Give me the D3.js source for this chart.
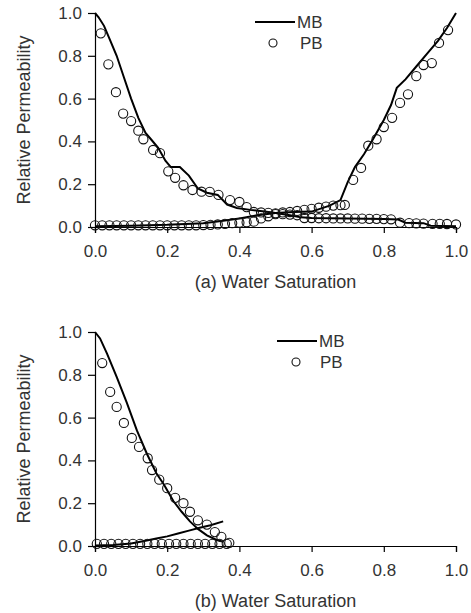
<!DOCTYPE html>
<html>
<head>
<meta charset="utf-8">
<script src="https://cdn.jsdelivr.net/npm/d3@7"></script>
<style>
  body { margin: 0; background: #fff; }
  .axis text { font-family: "Liberation Sans", Arial, sans-serif; font-size: 17px; fill: #333; }
  .axis path, .axis line { stroke: #000; stroke-width: 1.2; }
  .lbl { font-family: "Liberation Sans", Arial, sans-serif; fill: #333; }
</style>
</head>
<body>
<div id="chart"></div>
<script>
// tick values
const xTicks = [0, 0.2, 0.4, 0.6, 0.8, 1.0];
const yTicks = [0, 0.2, 0.4, 0.6, 0.8, 1.0];

// (a) MB lines
const aMbOil = [[0,1.0],[0.01,0.98],[0.025,0.94],[0.04,0.88],[0.06,0.80],[0.08,0.70],[0.1,0.60],[0.12,0.51],[0.14,0.44],[0.155,0.41],[0.175,0.37],[0.195,0.31],[0.21,0.28],[0.235,0.28],[0.26,0.24],[0.285,0.18],[0.31,0.16],[0.34,0.15],[0.366,0.105],[0.393,0.089],[0.43,0.08],[0.47,0.072],[0.5,0.065],[0.54,0.055],[0.57,0.045],[0.6,0.042],[0.7,0.04],[0.8,0.037],[0.84,0.035],[0.86,0.02],[0.91,0.018],[0.93,0.006],[1.0,0.004]];
const aMbWater = [[0,0.004],[0.1,0.006],[0.2,0.01],[0.3,0.018],[0.35,0.028],[0.4,0.04],[0.45,0.055],[0.5,0.065],[0.55,0.07],[0.6,0.072],[0.65,0.1],[0.68,0.126],[0.7,0.21],[0.72,0.28],[0.745,0.34],[0.77,0.41],[0.8,0.5],[0.82,0.57],[0.836,0.65],[0.86,0.69],[0.89,0.75],[0.92,0.81],[0.95,0.87],[0.975,0.93],[1.0,1.0]];

// (a) PB circles
const aPbOil = [[0.016,0.905],[0.037,0.76],[0.058,0.63],[0.078,0.53],[0.1,0.495],[0.12,0.45],[0.134,0.41],[0.161,0.36],[0.18,0.345],[0.203,0.26],[0.222,0.23],[0.245,0.195],[0.27,0.173],[0.295,0.165],[0.318,0.164],[0.342,0.15],[0.374,0.126],[0.4,0.117],[0.42,0.093],[0.44,0.07],[0.46,0.068],[0.48,0.066],[0.5,0.064],[0.52,0.06],[0.54,0.058],[0.56,0.055],[0.58,0.042],[0.6,0.042],[0.62,0.041],[0.64,0.041],[0.66,0.04],[0.68,0.04],[0.7,0.04],[0.72,0.039],[0.74,0.039],[0.76,0.038],[0.78,0.038],[0.8,0.037],[0.82,0.036],[0.845,0.02],[0.87,0.018],[0.89,0.017],[0.91,0.016],[0.935,0.015],[0.955,0.015],[0.975,0.014],[1.0,0.012]];
const aPbWater = [[0,0.008],[0.02,0.008],[0.04,0.008],[0.06,0.008],[0.08,0.008],[0.1,0.008],[0.12,0.008],[0.14,0.008],[0.16,0.008],[0.18,0.008],[0.2,0.008],[0.22,0.008],[0.24,0.008],[0.26,0.008],[0.28,0.008],[0.3,0.009],[0.32,0.01],[0.34,0.012],[0.36,0.015],[0.38,0.018],[0.4,0.02],[0.42,0.022],[0.44,0.025],[0.46,0.04],[0.48,0.05],[0.5,0.06],[0.52,0.068],[0.54,0.07],[0.56,0.075],[0.58,0.08],[0.6,0.085],[0.62,0.09],[0.64,0.095],[0.66,0.1],[0.68,0.102],[0.692,0.103],[0.715,0.22],[0.737,0.276],[0.757,0.38],[0.78,0.41],[0.8,0.467],[0.823,0.51],[0.845,0.58],[0.867,0.62],[0.89,0.705],[0.91,0.757],[0.933,0.766],[0.953,0.86],[0.978,0.92]];

// (b) MB lines
const bMbOil = [[0,1.0],[0.014,0.97],[0.033,0.9],[0.06,0.79],[0.088,0.67],[0.116,0.54],[0.144,0.43],[0.17,0.34],[0.19,0.29],[0.217,0.21],[0.24,0.16],[0.263,0.115],[0.285,0.08],[0.31,0.05],[0.337,0.028],[0.355,0.02]];
const bMbWater = [[0,0.002],[0.05,0.005],[0.1,0.012],[0.14,0.025],[0.17,0.035],[0.2,0.045],[0.23,0.058],[0.26,0.072],[0.29,0.085],[0.32,0.097],[0.355,0.115]];

// (b) PB circles
const bPbOil = [[0.02,0.855],[0.042,0.72],[0.06,0.65],[0.08,0.575],[0.102,0.505],[0.122,0.463],[0.146,0.41],[0.158,0.355],[0.178,0.31],[0.2,0.27],[0.222,0.225],[0.245,0.2],[0.263,0.16],[0.285,0.12],[0.31,0.1],[0.332,0.065],[0.35,0.043],[0.372,0.015]];
const bPbWater = [[0.005,0.01],[0.025,0.01],[0.045,0.01],[0.065,0.01],[0.085,0.01],[0.105,0.01],[0.125,0.01],[0.145,0.01],[0.165,0.01],[0.185,0.01],[0.205,0.01],[0.225,0.01],[0.245,0.01],[0.265,0.01],[0.285,0.01],[0.305,0.01],[0.325,0.01],[0.345,0.01],[0.365,0.01]];

const width = 471, height = 613;
const svg = d3.select('#chart').append('svg')
    .attr('width', width)
    .attr('height', height)
    .style('display', 'block');

const x = d3.scaleLinear().domain([0, 1]).range([95, 456]);

function drawPanel(top, title, lines, pbs, legend) {
    const y = d3.scaleLinear().domain([0, 1]).range([top + 214, top]);
    const g = svg.append('g');

    //Axes
    g.append('g')
        .attr('class', 'axis')
        .attr('transform', 'translate(0,' + y(0) + ')')
        .call(d3.axisBottom(x).tickValues(xTicks).tickFormat(d3.format('.1f'))
            .tickSizeOuter(0).tickSize(6).tickPadding(12));
    g.append('g')
        .attr('class', 'axis')
        .attr('transform', 'translate(' + x(0) + ',0)')
        .call(d3.axisLeft(y).tickValues(yTicks).tickFormat(d3.format('.1f'))
            .tickSizeOuter(0).tickSize(7).tickPadding(6));

    //Titles
    g.append('text')
        .attr('class', 'lbl')
        .attr('x', (x(0) + x(1)) / 2)
        .attr('y', y(0) + 61)
        .attr('text-anchor', 'middle')
        .style('font-size', '18px')
        .text(title);
    g.append('text')
        .attr('class', 'lbl')
        .attr('transform', 'translate(30,' + (y(0) + y(1)) / 2 + ') rotate(-90)')
        .attr('text-anchor', 'middle')
        .style('font-size', '18px')
        .text('Relative Permeability');

    //Lines
    const line = d3.line().x(d => x(d[0])).y(d => y(d[1]));
    lines.forEach(l => {
        g.append('path')
            .attr('d', line(l))
            .attr('fill', 'none')
            .attr('stroke', '#000')
            .attr('stroke-width', 2);
    });

    //Circles
    pbs.forEach(p => {
        g.selectAll(null)
            .data(p)
            .join('circle')
            .attr('cx', d => x(d[0]))
            .attr('cy', d => y(d[1]))
            .attr('r', 4.6)
            .attr('fill', 'none')
            .attr('stroke', '#111')
            .attr('stroke-width', 1.1);
    });

    //Legend
    g.append('line')
        .attr('x1', legend.lx).attr('x2', legend.lx + 40)
        .attr('y1', legend.ly).attr('y2', legend.ly)
        .attr('stroke', '#000').attr('stroke-width', 2);
    g.append('text')
        .attr('class', 'lbl')
        .attr('x', legend.lx + 42).attr('y', legend.ly + 6)
        .style('font-size', '17px')
        .text('MB');
    g.append('circle')
        .attr('cx', legend.cx).attr('cy', legend.ly + 21)
        .attr('r', 4)
        .attr('fill', 'none').attr('stroke', '#111').attr('stroke-width', 1.1);
    g.append('text')
        .attr('class', 'lbl')
        .attr('x', legend.tx).attr('y', legend.ly + 27)
        .style('font-size', '17px')
        .text('PB');
}

drawPanel(13, '(a) Water Saturation', [aMbOil, aMbWater], [aPbOil, aPbWater], {lx: 255, ly: 22, cx: 273, tx: 300});
drawPanel(332, '(b) Water Saturation', [bMbOil, bMbWater], [bPbOil, bPbWater], {lx: 277, ly: 341, cx: 296, tx: 320});
</script>
</body>
</html>
